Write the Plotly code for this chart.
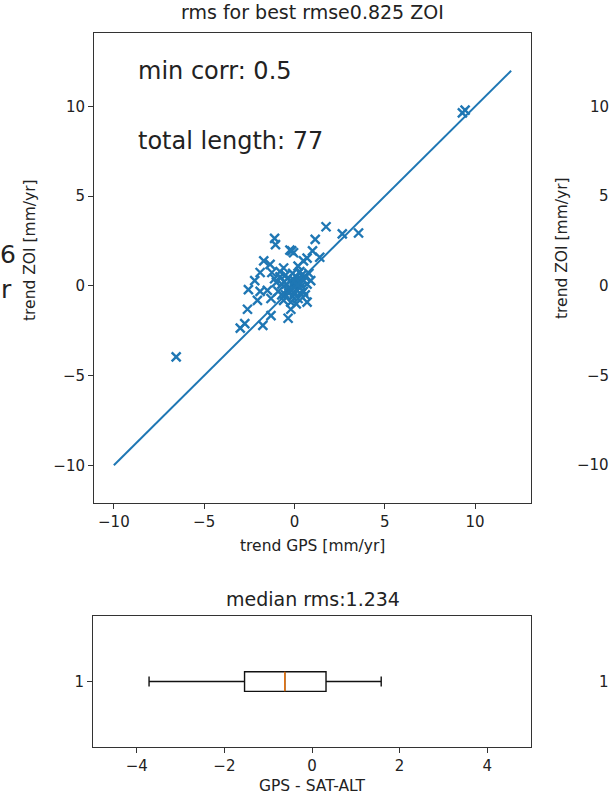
import plotly.graph_objects as go

# ---------------- data ----------------
gps_trend = [9.3, 9.45, -6.55, 1.75, 2.65, 3.55, -1.1, -1.05, -0.25, -0.05,
             -0.15, 1.15, 1.0, 0.7, 1.4, 0.5, -1.7, -1.35, -1.9, -1.25,
             -0.8, -2.55, -1.9, -1.5, -2.6, -2.05, -1.3, -3.0, -2.75, -1.75,
             -1.3, -0.35, -0.2, 0.7, 0.9, -2.2, -1.0, -0.6, 0.2, 0.4,
             -0.9, -0.7, -0.5, -0.4, -0.3, -0.2, -0.1, 0.0, 0.1, 0.2,
             0.3, 0.4, 0.5, 0.6, -0.6, -0.2, 0.1, 0.3, -0.8, -0.4,
             0.0, 0.2, 0.5, 0.7, -0.1, -0.5, 0.0, 0.3, -0.3, 0.1,
             0.6, -0.7, -1.1, 0.8, -0.2, 0.15, -0.45]
zoi_trend = [9.65, 9.8, -3.95, 3.3, 2.9, 2.95, 2.65, 2.3, 2.0, 1.85,
             1.95, 2.6, 1.95, 1.55, 1.6, 1.4, 1.4, 1.2, 0.75, 0.75,
             0.8, -0.2, -0.3, -0.25, -1.3, -0.8, -0.7, -2.35, -2.1, -2.2,
             -1.65, -1.8, -1.3, -0.9, 0.3, 0.3, 0.2, 1.0, 1.1, 0.6,
             -0.3, 0.1, -0.5, 0.4, -0.1, 0.3, -0.6, 0.0, -0.2, 0.2,
             -0.4, 0.0, -0.3, 0.5, -0.8, -0.9, 0.5, 0.8, 0.5, -0.2,
             -0.4, -0.7, 0.3, 0.1, 0.7, 0.6, 0.3, 0.2, -0.4, -1.0,
             -0.5, -0.5, 0.4, 0.7, -0.2, 0.05, 0.1]
one_to_one = [-10, 12]

box_position = [1]
box_q1 = [-1.54]
box_median = [-0.62]
box_q3 = [0.32]
box_lower = [-3.72]
box_upper = [1.58]
box_width = 0.15

scatter_ticks = [-10, -5, 0, 5, 10]
box_ticks = [-4, -2, 0, 2, 4]
neighbor_ticks = [10, 5, 0, -5, -10]
neighbor_tick_labels = ["10", "5", "0", "\u22125", "\u221210"]

title_main = "rms for best rmse0.825 ZOI"
title_box = "median rms:1.234"
text_corr = "min corr: 0.5"
text_len = "total length: 77"

# ---------------- style ----------------
W, H = 615, 797
C0 = "#1f77b4"
C1 = "#ff7f0e"
TXT = "#222222"
AX = "#333333"
FONT = "DejaVu Sans"
TICKF = 15
LABF = 15.5
TITF = 19
BIGF = 24


def px_x(p):
    return p / W


def px_y(p):
    return 1 - p / H


def minus(v):
    return str(v).replace("-", "\u2212")


fig = go.Figure()

fig.add_trace(go.Scatter(x=one_to_one, y=one_to_one, mode="lines",
                         line=dict(color=C0, width=2), xaxis="x", yaxis="y",
                         showlegend=False, hoverinfo="skip"))
fig.add_trace(go.Scatter(x=gps_trend, y=zoi_trend, mode="markers",
                         marker=dict(symbol="x-thin", size=9,
                                     line=dict(color=C0, width=2.4)),
                         xaxis="x", yaxis="y", showlegend=False))

fig.add_trace(go.Box(y=box_position, q1=box_q1, median=box_median, q3=box_q3,
                     lowerfence=box_lower, upperfence=box_upper,
                     orientation="h", width=box_width, whiskerwidth=0.5,
                     boxpoints=False, fillcolor="rgba(0,0,0,0)",
                     line=dict(color="#111111", width=1.4),
                     xaxis="x2", yaxis="y2", showlegend=False))
fig.add_trace(go.Scatter(x=[box_median[0], box_median[0]],
                         y=[box_position[0] - box_width / 2, box_position[0] + box_width / 2],
                         mode="lines", line=dict(color=C1, width=1.4),
                         xaxis="x2", yaxis="y2", showlegend=False, hoverinfo="skip"))

axis_common = dict(showgrid=False, zeroline=False, showline=True, mirror=True,
                   linecolor=AX, linewidth=1, ticks="outside", ticklen=5,
                   tickwidth=1, tickcolor=AX,
                   tickfont=dict(family=FONT, size=TICKF, color=TXT))

fig.update_layout(
    width=W, height=H, margin=dict(l=0, r=0, t=0, b=0),
    paper_bgcolor="white", plot_bgcolor="white",
    font=dict(family=FONT, color=TXT),
    xaxis=dict(domain=[px_x(94), px_x(531)], range=[-11.1, 13.1],
               tickvals=scatter_ticks, ticktext=[minus(t) for t in scatter_ticks],
               anchor="y", **axis_common),
    yaxis=dict(domain=[px_y(503), px_y(33)], range=[-12.1, 14.1],
               tickvals=scatter_ticks, ticktext=[minus(t) for t in scatter_ticks],
               anchor="x", **axis_common),
    xaxis2=dict(domain=[px_x(93), px_x(531)], range=[-5, 5],
                tickvals=box_ticks, ticktext=[minus(t) for t in box_ticks],
                anchor="y2", **axis_common),
    yaxis2=dict(domain=[px_y(747), px_y(616)], range=[0.5, 1.5],
                tickvals=box_position, ticktext=[str(t) for t in box_position],
                anchor="x2", **axis_common),
)

ann = []
ann.append(dict(text=title_main, x=px_x(312.5), y=px_y(12), xref="paper", yref="paper",
                xanchor="center", yanchor="middle", showarrow=False,
                font=dict(family=FONT, size=TITF, color=TXT)))
ann.append(dict(text=title_box, x=px_x(312.5), y=px_y(599), xref="paper", yref="paper",
                xanchor="center", yanchor="middle", showarrow=False,
                font=dict(family=FONT, size=TITF, color=TXT)))
ann.append(dict(text="trend GPS [mm/yr]", x=px_x(312.5), y=px_y(546), xref="paper", yref="paper",
                xanchor="center", yanchor="middle", showarrow=False,
                font=dict(family=FONT, size=LABF, color=TXT)))
ann.append(dict(text="GPS - SAT-ALT", x=px_x(312), y=px_y(786), xref="paper", yref="paper",
                xanchor="center", yanchor="middle", showarrow=False,
                font=dict(family=FONT, size=LABF, color=TXT)))
ann.append(dict(text="trend ZOI [mm/yr]", x=px_x(30), y=px_y(250), xref="paper", yref="paper",
                xanchor="center", yanchor="middle", textangle=-90, showarrow=False,
                font=dict(family=FONT, size=LABF, color=TXT)))
# in-plot texts
ann.append(dict(text=text_corr, x=-8.75, y=12.0, xref="x", yref="y",
                xanchor="left", yanchor="middle", showarrow=False,
                font=dict(family=FONT, size=BIGF, color=TXT)))
ann.append(dict(text=text_len, x=-8.75, y=8.1, xref="x", yref="y",
                xanchor="left", yanchor="middle", showarrow=False,
                font=dict(family=FONT, size=BIGF, color=TXT)))
# fragments of neighbouring panels (cut by the crop)
ann.append(dict(text="6", x=px_x(18), y=px_y(254), xref="paper", yref="paper",
                xanchor="right", yanchor="middle", showarrow=False,
                font=dict(family=FONT, size=25, color=TXT)))
ann.append(dict(text="r", x=px_x(14), y=px_y(289), xref="paper", yref="paper",
                xanchor="right", yanchor="middle", showarrow=False,
                font=dict(family=FONT, size=25, color=TXT)))
ann.append(dict(text="trend ZOI [mm/yr]", x=px_x(562), y=px_y(248), xref="paper", yref="paper",
                xanchor="center", yanchor="middle", textangle=-90, showarrow=False,
                font=dict(family=FONT, size=LABF, color=TXT)))
for v, t in zip(neighbor_ticks, neighbor_tick_labels):
    ann.append(dict(text=t, x=px_x(611), y=v, xref="paper", yref="y",
                    xanchor="right", yanchor="middle", showarrow=False,
                    font=dict(family=FONT, size=TICKF, color=TXT)))
ann.append(dict(text="1", x=px_x(611), y=box_position[0], xref="paper", yref="y2",
                xanchor="right", yanchor="middle", showarrow=False,
                font=dict(family=FONT, size=TICKF, color=TXT)))
fig.update_layout(annotations=ann)

fig.write_html("out.html", config={"displayModeBar": False},
               post_script="document.body.style.margin='0px';"
                           "document.body.style.overflow='hidden';")
